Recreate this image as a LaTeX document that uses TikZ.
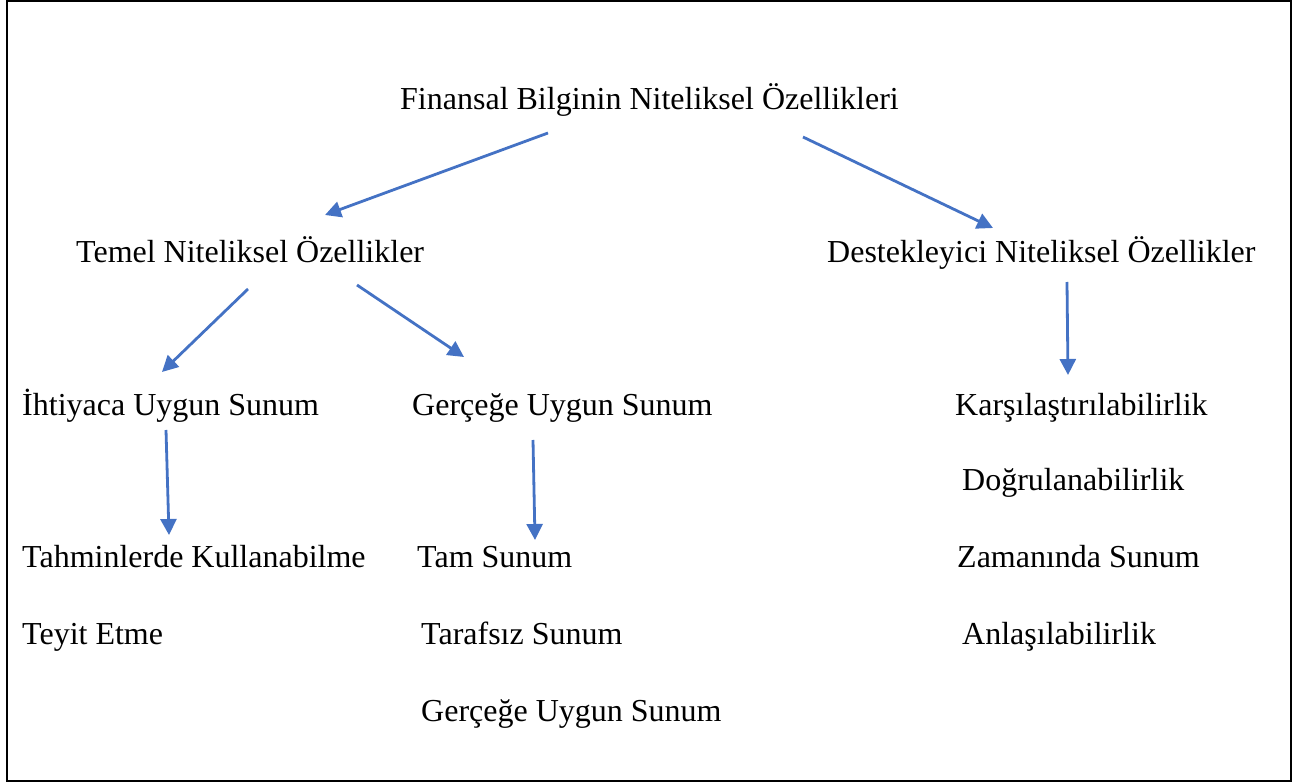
\documentclass[tikz,border=0pt]{standalone}
\usepackage{fontspec}
\setmainfont{Liberation Serif}
\usetikzlibrary{arrows.meta}
\definecolor{arrowblue}{HTML}{4472C4}
\begin{document}
\begin{tikzpicture}[x=1pt,y=-1pt,
  lbl/.style={anchor=base west,inner sep=0pt,font=\fontsize{32}{36}\selectfont},
  conn/.style={draw=arrowblue,line width=2.8pt,-{Triangle[length=16pt,width=16pt]},fill=arrowblue}]
\useasboundingbox (0,0) rectangle (1294,783);
\draw[line width=2.5pt] (7,1) rectangle (1291,781);
% texts
\node[lbl] (root) at (400,110) {Finansal Bilginin Niteliksel Özellikleri};
\node[lbl] (temel) at (76,263) {Temel Niteliksel Özellikler};
\node[lbl] (destek) at (827,263) {Destekleyici Niteliksel Özellikler};
\node[lbl] (ihtiyac) at (22,416) {İhtiyaca Uygun Sunum};
\node[lbl] (gercege) at (412,416) {Gerçeğe Uygun Sunum};
\node[lbl] (kars) at (955,416) {Karşılaştırılabilirlik};
\node[lbl] (dogru) at (962,491) {Doğrulanabilirlik};
\node[lbl] (tahmin) at (22,567) {Tahminlerde Kullanabilme};
\node[lbl] (tam) at (417,567) {Tam Sunum};
\node[lbl] (zaman) at (957,567) {Zamanında Sunum};
\node[lbl] (teyit) at (22,644) {Teyit Etme};
\node[lbl] (taraf) at (421,644) {Tarafsız Sunum};
\node[lbl] (anlas) at (962,644) {Anlaşılabilirlik};
\node[lbl] (gercege2) at (421,721) {Gerçeğe Uygun Sunum};
% connector endpoints
\coordinate (r1) at (548,133); \coordinate (t1) at (325,215);
\coordinate (r2) at (803,137); \coordinate (d1) at (993,228);
\coordinate (t2) at (248,289); \coordinate (i1) at (162,372);
\coordinate (t3) at (357,285); \coordinate (g1) at (464,357);
\coordinate (d2) at (1067,282); \coordinate (k1) at (1068,375);
\coordinate (i2) at (166,430); \coordinate (ta1) at (169,535);
\coordinate (g2) at (533,440); \coordinate (tm1) at (535,540);
\draw[conn] (r1) -- (t1);
\draw[conn] (r2) -- (d1);
\draw[conn] (t2) -- (i1);
\draw[conn] (t3) -- (g1);
\draw[conn] (d2) -- (k1);
\draw[conn] (i2) -- (ta1);
\draw[conn] (g2) -- (tm1);
\end{tikzpicture}
\end{document}
